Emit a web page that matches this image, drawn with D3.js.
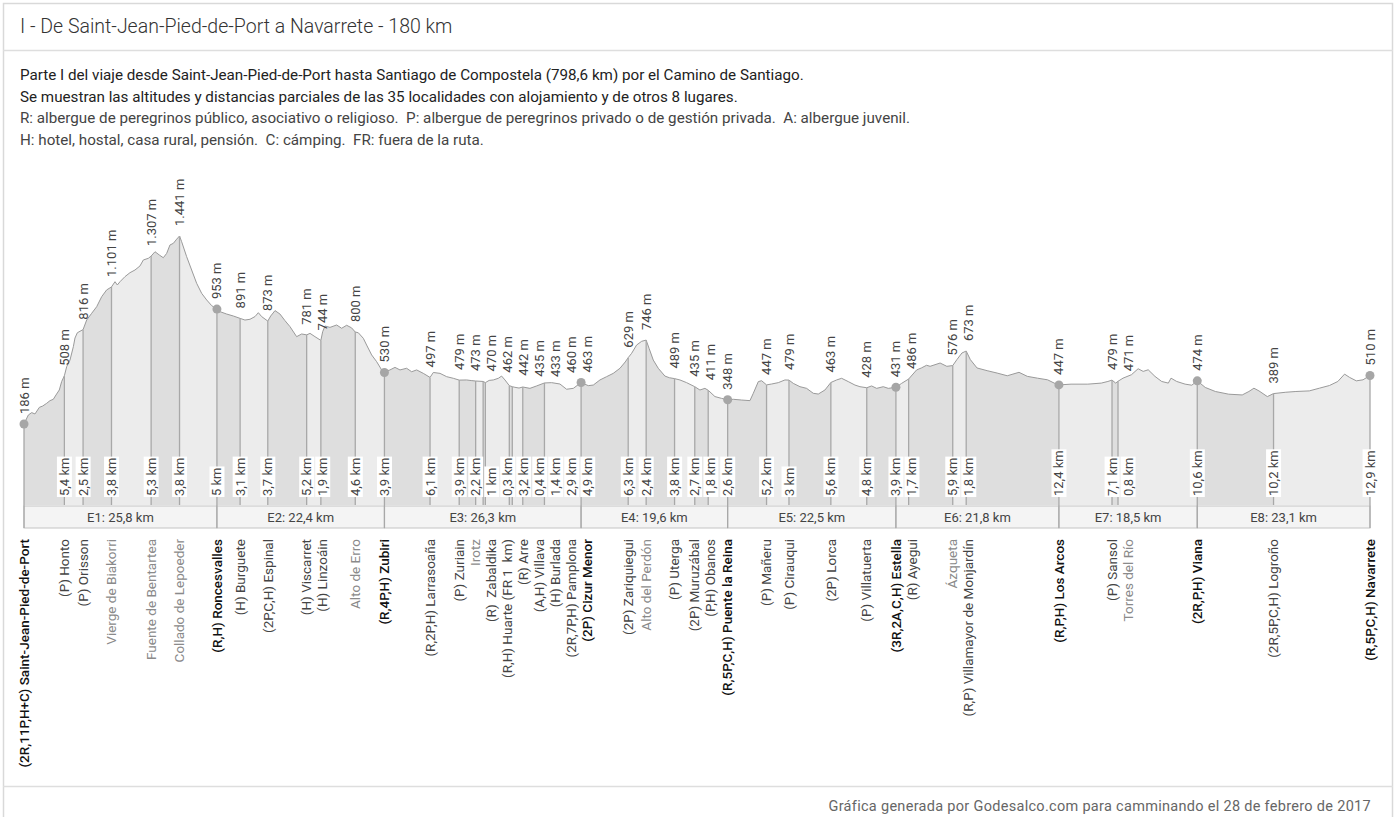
<!DOCTYPE html>
<html>
<head>
<meta charset="utf-8">
<script src="https://cdn.jsdelivr.net/npm/d3@7"></script>
<style>
  body { margin: 0; background: #fff; }
  svg { display: block; font-family: Roboto, "Noto Sans", sans-serif; }
  .pre { white-space: pre; }
</style>
</head>
<body>
<svg id="chart" width="1395" height="817"></svg>
<script>
// ---- data ----
const places = [
  "(2R,11P,H+C) Saint-Jean-Pied-de-Port", "(P) Honto", "(P) Orisson", "Vierge de Biakorri",
  "Fuente de Bentartea", "Collado de Lepoeder", "(R,H) Roncesvalles",
  "(H) Burguete", "(2P,C,H) Espinal", "(H) Viscarret", "(H) Linzoáin", "Alto de Erro", "(R,4P,H) Zubiri",
  "(R,2P,H) Larrasoaña", "(P) Zuriain", "Irotz", "(R)  Zabaldika", "(R,H) Huarte (FR 1  km)", "(R) Arre",
  "(A,H) Villava", "(H) Burlada", "(2R,7P,H) Pamplona", "(2P) Cizur Menor",
  "(2P) Zariquiegui", "Alto del Perdón", "(P) Uterga", "(2P) Muruzábal", "(P,H) Obanos", "(R,5P,C,H) Puente la Reina",
  "(P) Mañeru", "(P) Cirauqui", "(2P) Lorca", "(P) Villatuerta", "(3R,2A,C,H) Estella",
  "(R) Ayegui", "Ázqueta", "(R,P) Villamayor de Monjardín", "(R,P,H) Los Arcos",
  "(P) Sansol", "Torres del Río", "(2R,P,H) Viana",
  "(2R,5P,C,H) Logroño", "(R,5P,C,H) Navarrete"
];
// km from the previous place
const partialKm = [0, 5.4, 2.5, 3.8, 5.3, 3.8, 5,
  3.1, 3.7, 5.2, 1.9, 4.6, 3.9,
  6.1, 3.9, 2.2, 1, 0.3, 3.2, 0.4, 1.4, 2.9, 4.9,
  6.3, 2.4, 3.8, 2.7, 1.8, 2.6,
  5.2, 3, 5.6, 4.8, 3.9,
  1.7, 5.9, 1.8, 12.4,
  7.1, 0.8, 10.6,
  10.2, 12.9];
const altitudes = [186, 508, 816, 1101, 1307, 1441, 953,
  891, 873, 781, 744, 800, 530,
  497, 479, 473, 470, 462, 442, 435, 433, 460, 463,
  629, 746, 489, 435, 411, 348,
  447, 479, 463, 428, 431,
  486, 576, 673, 447,
  479, 471, 474,
  389, 510];
// e = stage start/end, a = with lodging, o = other place
const placeKind = "eaaoooe" + "aaaaoe" + "aaoaaaaaae" + "aoaaae" + "aaaae" + "aoae" + "aoe" + "ae";
const stageNames = ["E1", "E2", "E3", "E4", "E5", "E6", "E7", "E8"];
const stageKm = [25.8, 22.4, 26.3, 19.6, 22.5, 21.8, 18.5, 23.1];

// altitude profile between places [km, m]
const profile = [
  [0.58,246],[1.03,262],[1.47,253],[2.05,297],[2.50,306],[3.03,324],[3.48,342],[3.92,351],[4.28,380],[4.72,413],[5.04,470],
  [5.71,569],[6.15,613],[6.60,702],[6.82,760],[7.13,795],[7.49,805],
  [8.38,880],[9.05,925],[9.72,969],[10.39,1036],[11.05,1081],
  [12.17,1136],[12.48,1114],[12.84,1136],[13.51,1170],[14.17,1196],[14.84,1214],[15.51,1241],[15.96,1281],[16.63,1292],
  [17.52,1336],[18.10,1314],[18.63,1296],[19.08,1325],[19.52,1381],[19.97,1392],[20.42,1420],
  [21.08,1403],[21.75,1303],[22.42,1214],[23.09,1125],[23.76,1058],[24.43,1014],[25.10,976],
  [26.21,936],[27.10,920],[27.99,907],
  [29.55,880],[30.22,885],[30.89,903],[31.34,929],[31.78,903],
  [32.99,907],[33.57,943],[34.23,920],[34.90,876],[35.57,836],[36.46,769],[37.13,787],
  [38.25,791],[38.91,769],
  [39.94,802],[40.25,840],[40.92,831],[41.81,847],[42.48,825],[43.15,845],[43.8,828],
  [44.71,795],[45.38,758],[45.82,713],[46.49,647],[47.16,602],[47.83,547],
  [48.94,547],[49.61,564],[50.28,547],[51.17,558],[51.84,535],[52.51,547],[53.40,524],
  [54.74,530],[55.63,524],[56.52,502],[57.41,491],
  [59.19,480],[59.8,476],
  [62.2,477],[62.76,480],[63.43,491],[63.87,506],[64.32,480],
  [65.65,431],[66.2,426],
  [67.66,424],[68.55,440],
  [70.56,462],[71.67,453],[72.56,418],[73.46,424],
  [75.46,442],[76.13,446],[77.02,480],[77.91,502],[78.80,524],[79.70,558],[80.4,600],
  [81.26,658],[81.92,713],[82.6,738],
  [83.6,690],[84.15,613],[84.82,558],[85.71,506],[86.3,495],
  [87.72,480],[88.61,462],
  [90.39,413],[91.06,424],
  [92.40,369],[93.29,357],
  [94.85,351],[95.97,346],[97.08,342],[97.53,391],[98.20,469],[98.64,475],
  [99.98,453],[100.87,462],[101.76,480],
  [102.88,457],[103.77,435],[104.66,424],[105.55,391],[106.22,386],[107.11,413],
  [108.67,480],[109.34,491],[110.23,469],[111.12,446],[111.79,435],
  [113.35,440],[114.02,424],[114.91,435],[115.58,424],
  [117.36,457],
  [119.37,547],[120.0,560],[120.70,578],[121.17,571],[122.51,593],[123.41,571],
  [124.76,616],[125.43,660],
  [126.55,616],[127.45,560],[128.80,542],[130.14,526],[131.49,508],[133.06,531],[134.18,504],[135.53,492],[136.88,481],[137.77,459],
  [140.02,452],[142.26,452],[144.06,459],[144.95,470],
  [145.99,459],
  [146.97,492],[148.10,515],[148.99,555],[149.67,537],[150.34,548],[151.24,504],[152.14,470],[153.03,459],[153.39,492],[154.15,470],[155.28,452],[156.17,445],
  [157.97,430],[159.32,403],[161.11,385],[162.91,380],[163.80,403],[164.48,425],[165.15,407],[166.27,369],
  [168.74,398],[170.09,403],[171.88,407],[173.23,425],[174.58,443],[175.70,470],[176.60,519],[177.27,497],[178.17,474],[179.07,481]
];

const headerText = "I - De Saint-Jean-Pied-de-Port a Navarrete - 180 km";
const notes = [
  "Parte I del viaje desde Saint-Jean-Pied-de-Port hasta Santiago de Compostela (798,6 km) por el Camino de Santiago.",
  "Se muestran las altitudes y distancias parciales de las 35 localidades con alojamiento y de otros 8 lugares.",
  "R: albergue de peregrinos público, asociativo o religioso.  P: albergue de peregrinos privado o de gestión privada.  A: albergue juvenil.",
  "H: hotel, hostal, casa rural, pensión.  C: cámping.  FR: fuera de la ruta."
];
const footerText = "Gráfica generada por Godesalco.com para camminando el 28 de febrero de 2017";

// ---- drawing ----
const svg = d3.select("#chart");
const loc = d3.formatLocale({decimal: ",", thousands: ".", grouping: [3], currency: ["", " €"]});
const fmtAlt = v => loc.format(",")(v) + " m";
const fmtKm = v => loc.format("~")(v) + " km";

const base = 505;
const x = d3.scaleLinear().domain([0, 180]).range([24, 1370]);
const y = d3.scaleLinear().domain([186, 1441]).range([424, 236]);

const cum = Array.from(d3.cumsum(partialKm), v => Math.round(v * 10) / 10);
const pts = places.map((name, i) => ({name, km: cum[i], alt: altitudes[i], kind: placeKind[i], i}));

// label positions: pushed right so they don't overlap
const gap = 16;
pts.forEach((p, i) => { p.lx = i === 0 ? x(p.km) : Math.max(x(p.km), pts[i - 1].lx + gap); });

// frame
svg.append("rect").attr("x", 3.5).attr("y", 3.5).attr("width", 1389).attr("height", 830)
  .attr("fill", "#fff").attr("stroke", "#d9d9d9").attr("stroke-width", 1.5);
svg.append("line").attr("x1", 3).attr("x2", 1393).attr("y1", 50.5).attr("y2", 50.5)
  .attr("stroke", "#dedede").attr("stroke-width", 1.5);
svg.append("line").attr("x1", 3).attr("x2", 1393).attr("y1", 786.5).attr("y2", 786.5)
  .attr("stroke", "#dedede").attr("stroke-width", 1.5);

svg.append("text").attr("x", 20).attr("y", 33).attr("font-size", 19.5).attr("fill", "#333")
  .attr("font-weight", 300).text(headerText);
svg.selectAll("text.note").data(notes).join("text").attr("class", "note pre")
  .attr("x", 20).attr("y", (d, i) => 80 + i * 21.7).attr("font-size", 15.2)
  .attr("fill", (d, i) => i < 2 ? "#222" : "#444").text(d => d);
svg.append("text").attr("x", 1371).attr("y", 811).attr("text-anchor", "end").attr("font-size", 14.5)
  .attr("fill", "#666").attr("letter-spacing", 0.3).text(footerText);

// merged profile (places + intermediate readings)
const merged = profile.map(d => ({km: d[0], alt: d[1]})).concat(pts).sort((a, b) => a.km - b.km);
const area = d3.area().x(d => x(d.km)).y0(base).y1(d => y(d.alt));
const line = d3.line().x(d => x(d.km)).y(d => y(d.alt));

const segs = d3.range(pts.length - 1).map(i =>
  merged.filter(d => d.km >= pts[i].km && d.km <= pts[i + 1].km));
svg.append("g").selectAll("path").data(segs).join("path")
  .attr("d", area).attr("fill", (d, i) => i % 2 === 0 ? "#dedede" : "#ececec");
svg.append("path").datum(merged).attr("d", line).attr("fill", "none")
  .attr("stroke", "#9a9a9a").attr("stroke-width", 1);

// stage boxes
const stageStart = [0, ...d3.cumsum(stageKm)];
const stages = stageNames.map((n, i) => ({n, km: stageKm[i], a: stageStart[i], b: stageStart[i] + stageKm[i]}));
const sg = svg.append("g");
sg.selectAll("rect").data(stages).join("rect")
  .attr("x", d => x(d.a)).attr("width", d => x(d.b) - x(d.a)).attr("y", 506).attr("height", 22)
  .attr("fill", "#f4f4f4").attr("stroke", "#c4c4c4").attr("stroke-width", 1);
sg.selectAll("text").data(stages).join("text")
  .attr("x", d => (x(d.a) + x(d.b)) / 2).attr("y", 521.5).attr("text-anchor", "middle")
  .attr("font-size", 13).attr("fill", "#444").text(d => d.n + ": " + fmtKm(d.km));

// vertical drop lines
svg.append("g").selectAll("line").data(pts).join("line")
  .attr("x1", d => x(d.km)).attr("x2", d => x(d.km))
  .attr("y1", d => y(d.alt)).attr("y2", d => d.kind === "e" ? 528 : base)
  .attr("stroke", "#a8a8a8").attr("stroke-width", 1.3);
svg.append("g").selectAll("circle").data(pts.filter(d => d.kind === "e")).join("circle")
  .attr("cx", d => x(d.km)).attr("cy", d => y(d.alt)).attr("r", 4.5).attr("fill", "#a6a6a6");

// altitude labels
svg.append("g").selectAll("text").data(pts).join("text")
  .attr("transform", d => `translate(${d.lx},${y(d.alt) - 10}) rotate(-90)`)
  .attr("dy", "0.35em").attr("font-size", 13).attr("fill", "#444").text(d => fmtAlt(d.alt));

// partial distance labels with white boxes
const kmG = svg.append("g").selectAll("g").data(pts.slice(1)).join("g")
  .attr("transform", d => `translate(${d.lx},496) rotate(-90)`);
kmG.append("text").attr("dy", "0.35em").attr("font-size", 13).attr("fill", "#444")
  .text(d => fmtKm(partialKm[d.i]));
kmG.insert("rect", "text").each(function () {
  const b = this.parentNode.querySelector("text").getBBox();
  d3.select(this).attr("x", b.x - 1).attr("y", b.y).attr("width", b.width + 2).attr("height", b.height)
    .attr("fill", "#fff");
});

// place names
svg.append("g").selectAll("text").data(pts).join("text")
  .attr("class", "pre")
  .attr("transform", d => `translate(${d.lx},539) rotate(-90)`)
  .attr("dy", "0.35em").attr("text-anchor", "end").attr("font-size", 13.5)
  .attr("fill", d => d.kind === "e" ? "#111" : d.kind === "a" ? "#444" : "#8a8a8a")
  .attr("font-weight", d => d.kind === "e" ? 500 : 400)
  .text(d => d.name);
</script>
</body>
</html>
